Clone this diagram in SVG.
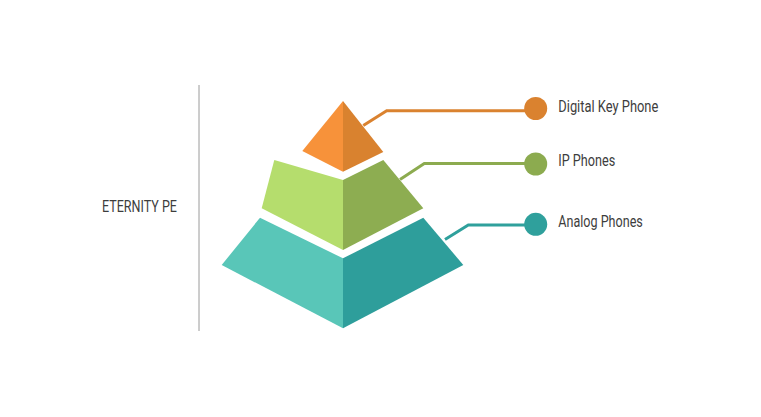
<svg xmlns="http://www.w3.org/2000/svg" width="761" height="417" viewBox="0 0 761 417">
<style>
.lbl{font-family:"Liberation Sans Narrow","Roboto","Liberation Sans",sans-serif;font-size:16px;fill:#3d3d3d}
.ln{fill:none;stroke-width:3;stroke-linejoin:miter}
</style>
<rect width="761" height="417" fill="#ffffff"/>
<line x1="199" y1="85" x2="199" y2="331" stroke="#9a9a9a" stroke-width="1"/>
<text class="lbl" x="102" y="212" textLength="75" lengthAdjust="spacingAndGlyphs">ETERNITY PE</text>
<g id="tier-bottom">
<polygon points="260,217.7 343,258.3 343,328.3 221.7,265" fill="#59c6b8"/>
<polygon points="343,258.3 423.3,217.7 463.3,265 343,328.3" fill="#2e9e9b"/>
</g>
<g id="tier-middle">
<polygon points="274.3,160 343,180 343,250 261.7,208.3" fill="#b5dd6d"/>
<polygon points="343,180 383.3,160 423.3,208.3 343,250" fill="#8dad51"/>
</g>
<g id="tier-top">
<polygon points="343,101 343,171.7 302.3,151" fill="#f7923a"/>
<polygon points="343,101 383.3,152 343,171.7" fill="#d9822f"/>
</g>
<g id="connectors">
<polyline class="ln" points="363.3,125.5 386.7,110.7 530,110.7" stroke="#da822f"/>
<polyline class="ln" points="400,179.5 424.3,163.5 530,163.5" stroke="#8cab4f"/>
<polyline class="ln" points="445,239.5 468.3,225 530,225" stroke="#2fa09c"/>
</g>
<g id="node-digital">
<circle cx="535.7" cy="108.5" r="11.5" fill="#da822f"/>
<text class="lbl" x="558.3" y="111.5" textLength="100" lengthAdjust="spacingAndGlyphs">Digital Key Phone</text>
</g>
<g id="node-ip">
<circle cx="535.7" cy="164" r="11.5" fill="#8cab4f"/>
<text class="lbl" x="558.3" y="166" textLength="57" lengthAdjust="spacingAndGlyphs">IP Phones</text>
</g>
<g id="node-analog">
<circle cx="535.7" cy="224.3" r="11.5" fill="#2fa09c"/>
<text class="lbl" x="558.3" y="226.7" textLength="84.5" lengthAdjust="spacingAndGlyphs">Analog Phones</text>
</g>
</svg>
